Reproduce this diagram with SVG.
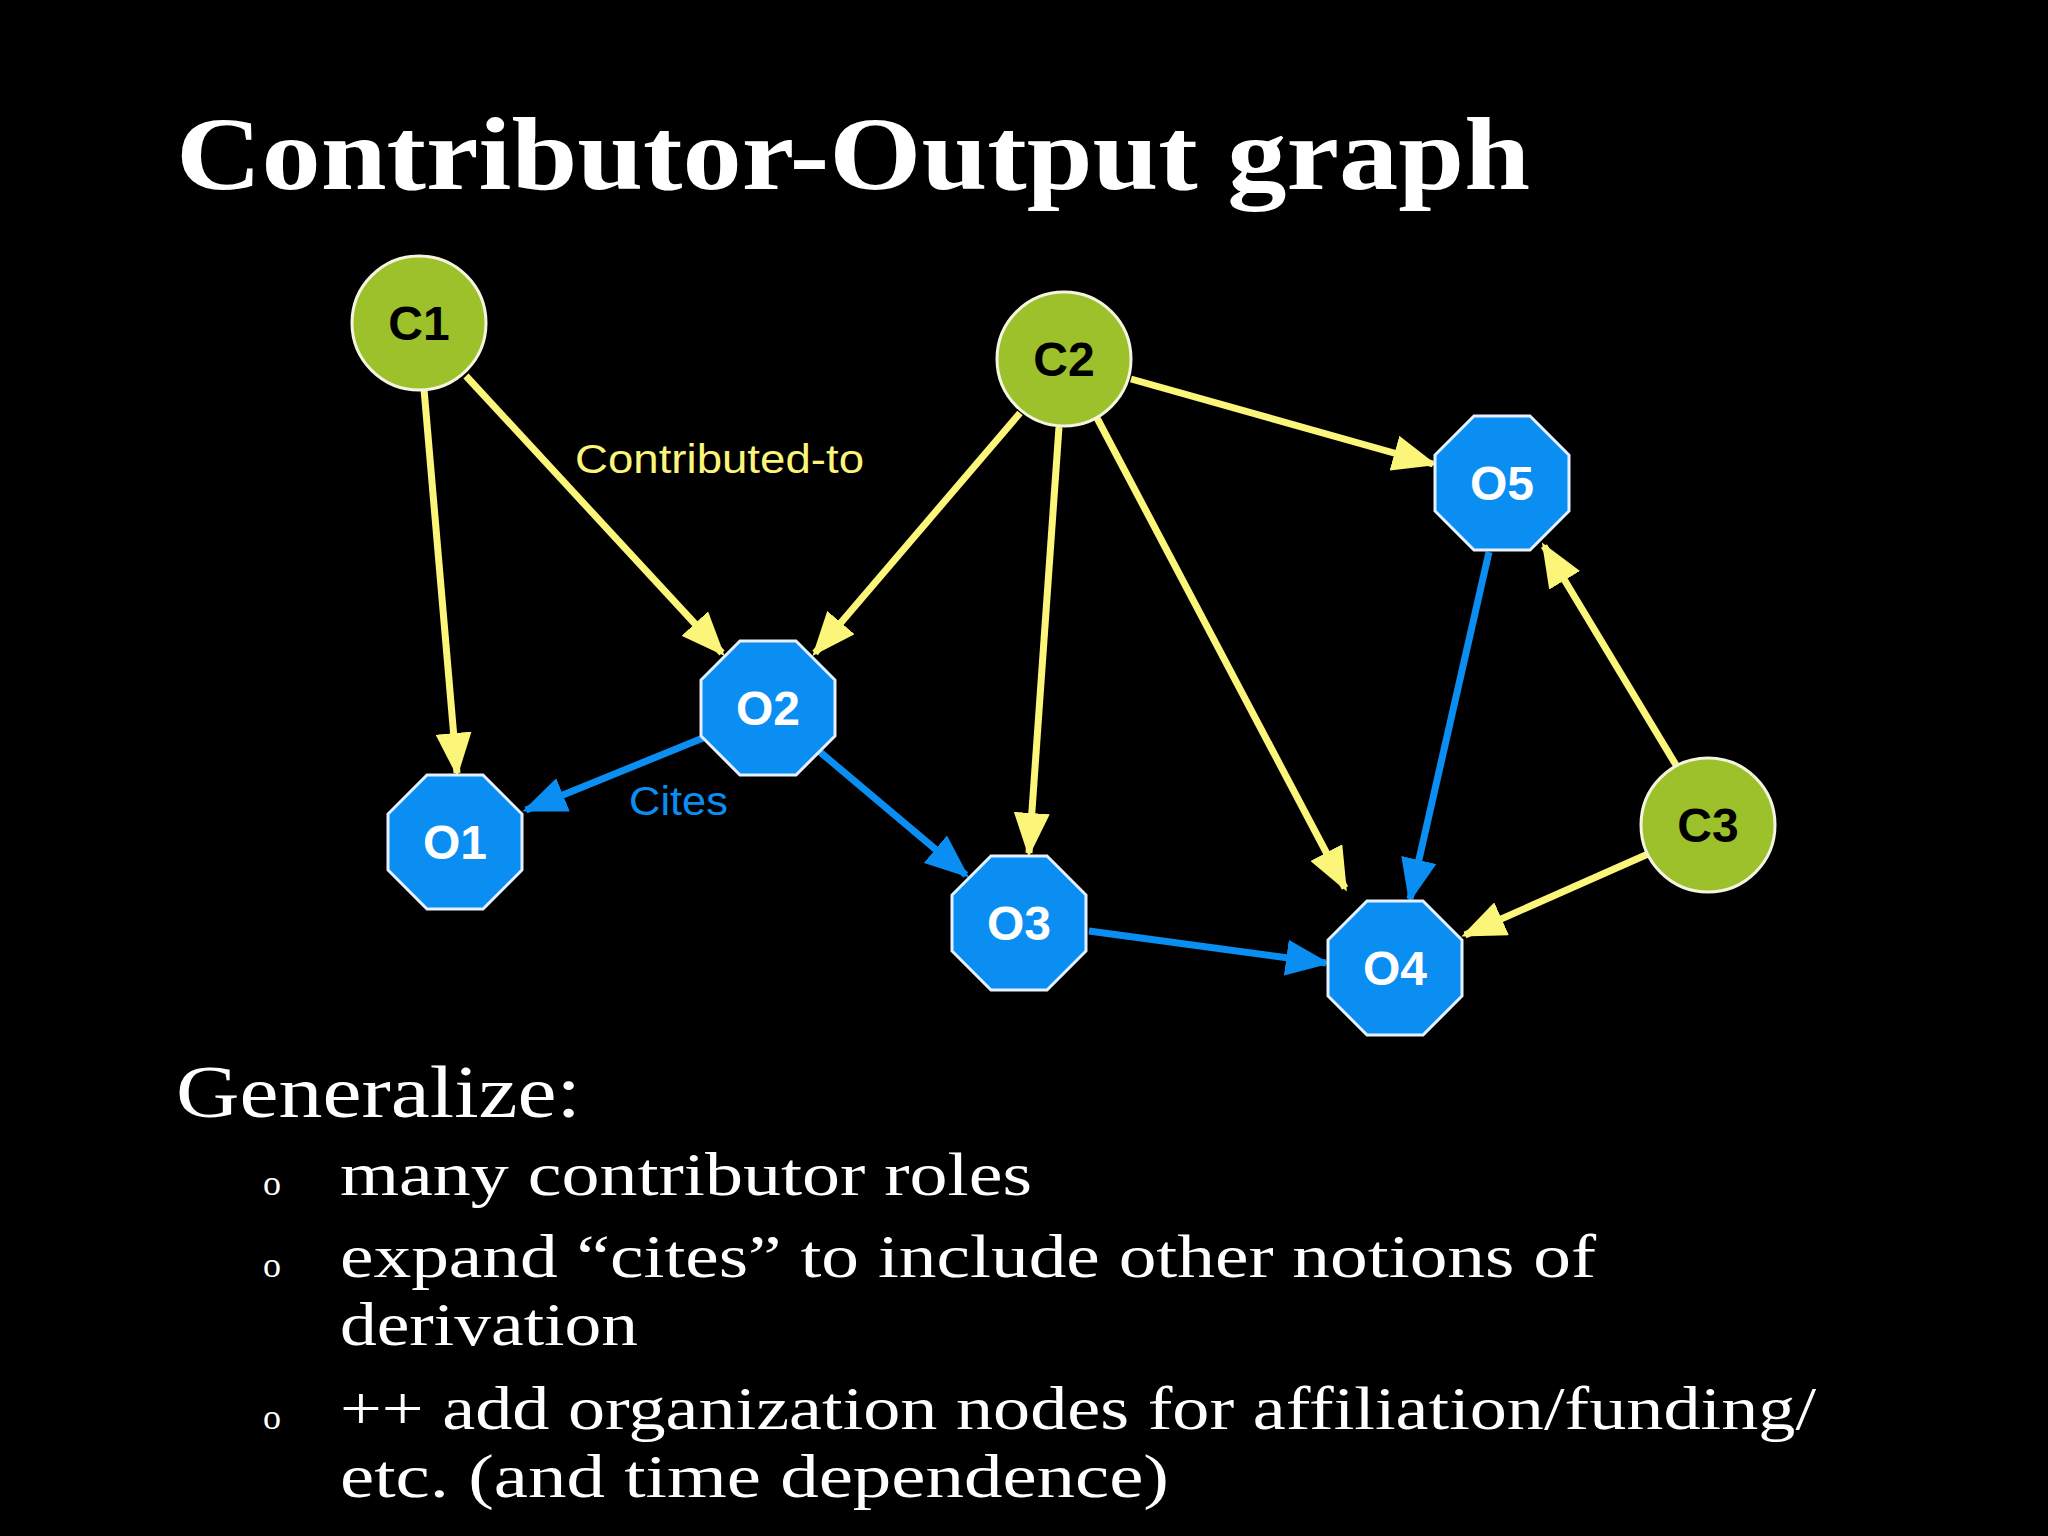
<svg xmlns="http://www.w3.org/2000/svg" width="2048" height="1536" viewBox="0 0 2048 1536">
<style>
.c{fill:#9cc12b;stroke:#f4f4e0;stroke-width:3}
.o{fill:#0b8ef2;stroke:#e8f0ff;stroke-width:3}
.ct{font-family:"Liberation Sans",Arial,sans-serif;font-weight:bold;font-size:48px;fill:#000;text-anchor:middle}
.ot{font-family:"Liberation Sans",Arial,sans-serif;font-weight:bold;font-size:48px;fill:#fff;text-anchor:middle}
.y{stroke:#fbf57a;stroke-width:7;fill:none;marker-end:url(#ay)}
.b{stroke:#0b8ef2;stroke-width:7;fill:none;marker-end:url(#ab)}
.t{font-family:"Liberation Serif","Times New Roman",serif;fill:#fff}
</style>
<defs>
<marker id="ay" markerUnits="userSpaceOnUse" markerWidth="44" markerHeight="36" refX="40" refY="18" orient="auto"><path d="M0,0 L44,18 L0,36 Z" fill="#fbf57a"/></marker>
<marker id="ab" markerUnits="userSpaceOnUse" markerWidth="44" markerHeight="36" refX="40" refY="18" orient="auto"><path d="M0,0 L44,18 L0,36 Z" fill="#0b8ef2"/></marker>
<polygon id="oct" points="28,-67 67,-28 67,28 28,67 -28,67 -67,28 -67,-28 -28,-67"/>
</defs>
<rect width="2048" height="1536" fill="#000"/>
<text class="t" x="176" y="189" font-size="104" font-weight="bold" textLength="1354" lengthAdjust="spacingAndGlyphs">Contributor-Output graph</text>
<g id="connectors">
<path class="y" d="M424,389 L457,773"/>
<path class="y" d="M466,376 L722,653"/>
<path class="y" d="M1020,413 L815,653"/>
<path class="y" d="M1059,427 L1029,853"/>
<path class="y" d="M1097,418 L1345,888"/>
<path class="y" d="M1131,379 L1433,464"/>
<path class="y" d="M1676,765 L1544,546"/>
<path class="y" d="M1648,854 L1465,935"/>
<path class="b" d="M703,738 L526,810"/>
<path class="b" d="M820,752 L966,875"/>
<path class="b" d="M1089,931 L1326,963"/>
<path class="b" d="M1489,552 L1410,899"/>
<text x="575" y="473" font-family="Liberation Sans,Arial,sans-serif" font-size="40" fill="#fbf57a" textLength="289" lengthAdjust="spacingAndGlyphs">Contributed-to</text>
<text x="629" y="815" font-family="Liberation Sans,Arial,sans-serif" font-size="40" fill="#0b8ef2" textLength="99" lengthAdjust="spacingAndGlyphs">Cites</text>
</g>
<g id="C1"><circle class="c" cx="419" cy="323" r="67"/><text class="ct" x="419" y="340">C1</text></g>
<g id="C2"><circle class="c" cx="1064" cy="359" r="67"/><text class="ct" x="1064" y="376">C2</text></g>
<g id="C3"><circle class="c" cx="1708" cy="825" r="67"/><text class="ct" x="1708" y="842">C3</text></g>
<g id="O1"><use href="#oct" class="o" x="455" y="842"/><text class="ot" x="455" y="859">O1</text></g>
<g id="O2"><use href="#oct" class="o" x="768" y="708"/><text class="ot" x="768" y="725">O2</text></g>
<g id="O3"><use href="#oct" class="o" x="1019" y="923"/><text class="ot" x="1019" y="940">O3</text></g>
<g id="O4"><use href="#oct" class="o" x="1395" y="968"/><text class="ot" x="1395" y="985">O4</text></g>
<g id="O5"><use href="#oct" class="o" x="1502" y="483"/><text class="ot" x="1502" y="500">O5</text></g>
<g class="t" font-size="62">
<text x="176" y="1117" font-size="74" textLength="405" lengthAdjust="spacingAndGlyphs">Generalize:</text>
<text x="263" y="1195" font-size="36">o</text>
<text x="340" y="1195" textLength="692" lengthAdjust="spacingAndGlyphs">many contributor roles</text>
<text x="263" y="1277" font-size="36">o</text>
<text x="340" y="1277" textLength="1256" lengthAdjust="spacingAndGlyphs">expand “cites” to include other notions of</text>
<text x="340" y="1345" textLength="298" lengthAdjust="spacingAndGlyphs">derivation</text>
<text x="263" y="1429" font-size="36">o</text>
<text x="340" y="1429" textLength="1476" lengthAdjust="spacingAndGlyphs">++ add organization nodes for affiliation/funding/</text>
<text x="340" y="1497" textLength="829" lengthAdjust="spacingAndGlyphs">etc. (and time dependence)</text>
</g>
</svg>
